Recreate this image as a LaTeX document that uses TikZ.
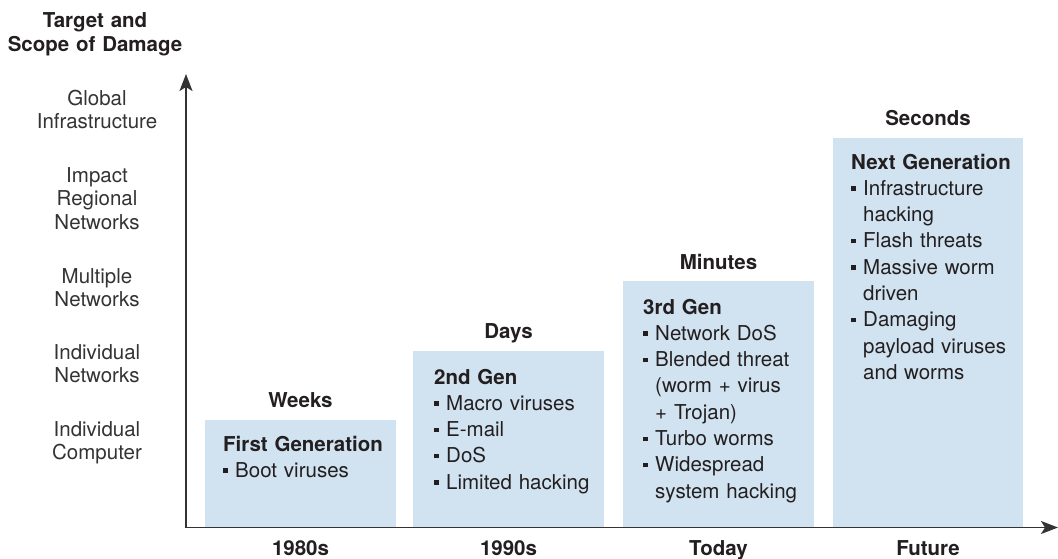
\documentclass[tikz,border=0pt]{standalone}
\usepackage{fontspec}
\setmainfont{TeX Gyre Heros}
\usetikzlibrary{arrows.meta}

\definecolor{ink}{HTML}{231F20}
\definecolor{labelgray}{HTML}{333333}
\definecolor{genfill}{HTML}{D1E2F0}
\definecolor{axisgray}{HTML}{333333}

% square bullet followed by the item text; \cnt indents wrapped lines
\newcommand{\sqb}{\makebox[12pt][l]{\rule[4.5pt]{4.5pt}{4.5pt}}}
\newcommand{\cnt}{\hspace*{12pt}}

\begin{document}
\begin{tikzpicture}[x=1pt,y=-1pt,
  genbox/.style={fill=genfill, draw=none, anchor=south west, inner sep=0pt},
  gentext/.style={anchor=base west, inner sep=0pt, text width=185pt, align=left,
                  text=ink, font=\fontsize{20.5}{26.3}\selectfont},
  period/.style={anchor=base, inner sep=0pt, text=ink, font=\bfseries\fontsize{20.5}{24}\selectfont},
  scale label/.style={anchor=base, inner sep=0pt, text width=170pt, align=center,
                  text=labelgray, font=\fontsize{20.5}{23.5}\selectfont},
  axis line/.style={draw=axisgray, line width=1.7pt,
                  -{Stealth[length=17pt,width=13pt,inset=4pt]}}
]
\useasboundingbox (0,0) rectangle (1058,558);

% generation boxes
\node[genbox, minimum width=191pt, minimum height=107pt] (b1) at (205,527) {};
\node[genbox, minimum width=191pt, minimum height=176pt] (b2) at (413,527) {};
\node[genbox, minimum width=191pt, minimum height=246pt] (b3) at (623,527) {};
\node[genbox, minimum width=190pt, minimum height=389pt] (b4) at (833,527) {};

% box contents
\node[gentext] (t1) at (223,451) {\textbf{First Generation}\\
  \sqb Boot viruses};
\node[gentext] (t2) at (434,384) {\textbf{2nd Gen}\\
  \sqb Macro viruses\\
  \sqb E-mail\\
  \sqb DoS\\
  \sqb Limited hacking};
\node[gentext] (t3) at (643,314) {\textbf{3rd Gen}\\
  \sqb Network DoS\\
  \sqb Blended threat\\
  \cnt (worm + virus\\
  \cnt + Trojan)\\
  \sqb Turbo worms\\
  \sqb Widespread\\
  \cnt system hacking};
\node[gentext] (t4) at (851,169) {\textbf{Next Generation}\\
  \sqb Infrastructure\\
  \cnt hacking\\
  \sqb Flash threats\\
  \sqb Massive worm\\
  \cnt driven\\
  \sqb Damaging\\
  \cnt payload viruses\\
  \cnt and worms};

% speed of spread above each box
\node[period] (p1) at (300.5,407) {Weeks};
\node[period] (p2) at (508.5,338) {Days};
\node[period] (p3) at (718.5,269) {Minutes};
\node[period] (p4) at (928,125) {Seconds};

% time axis labels
\node[period] (y1) at (300.5,555) {1980s};
\node[period] (y2) at (508.5,555) {1990s};
\node[period] (y3) at (718.5,555) {Today};
\node[period] (y4) at (928,555) {Future};

% vertical axis title and scale
\node[period, text width=200pt, align=center] (title) at (95,27) {Target and\\Scope of Damage};
\node[scale label] (s5) at (97,105) {Global\\Infrastructure};
\node[scale label] (s4) at (97,182) {Impact\\Regional\\Networks};
\node[scale label] (s3) at (97,283) {Multiple\\Networks};
\node[scale label] (s2) at (97,359) {Individual\\Networks};
\node[scale label] (s1) at (97,436) {Individual\\Computer};

% axes
\coordinate (origin) at (186,527.5);
\coordinate (ytip) at (186,74);
\coordinate (xtip) at (1058,527.5);
\draw[axis line] (origin) -- (ytip);
\draw[axis line] ([xshift=-1.5pt]origin) -- (xtip);
\end{tikzpicture}
\end{document}
